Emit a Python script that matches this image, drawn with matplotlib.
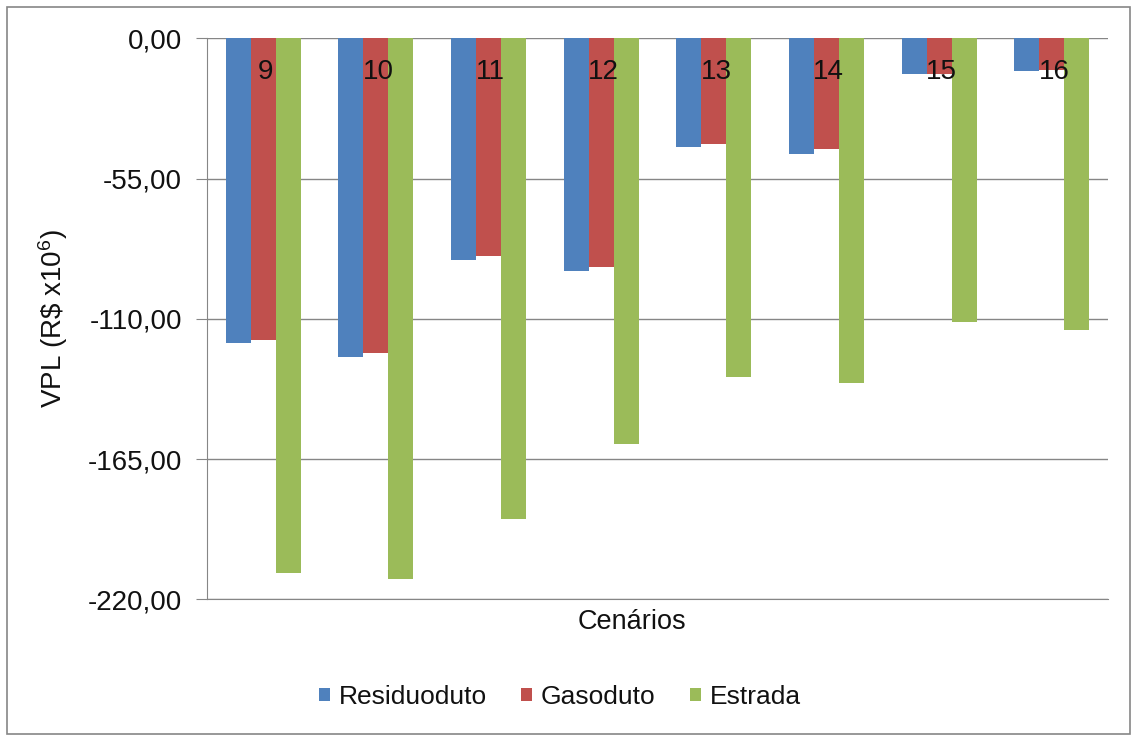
import matplotlib
matplotlib.use('Agg')
import numpy as np
from matplotlib import pyplot as plt
from matplotlib.patches import Rectangle
from matplotlib.ticker import FuncFormatter
import matplotlib.transforms as mtransforms

# Data (VPL in R$ x10^6)
scenarios = ['9', '10', '11', '12', '13', '14', '15', '16']
residuoduto = [-119.5, -125.0, -86.8, -91.2, -42.6, -45.2, -14.1, -12.7]
gasoduto = [-118.5, -123.4, -85.3, -89.7, -41.5, -43.6, -14.0, -12.3]
estrada = [-209.8, -212.0, -188.6, -159.0, -132.7, -135.3, -111.3, -114.3]
y_ticks = [0, -55, -110, -165, -220]

series = [('Residuoduto', residuoduto, '#4F81BD'),
          ('Gasoduto', gasoduto, '#C0504D'),
          ('Estrada', estrada, '#9BBB59')]

plt.rcParams['font.family'] = ['Liberation Sans', 'DejaVu Sans']
plt.rcParams['mathtext.fontset'] = 'custom'
plt.rcParams['mathtext.rm'] = 'Liberation Sans'
plt.rcParams['mathtext.default'] = 'regular'

fig = plt.figure(figsize=(11.32, 7.36), dpi=100)
ax = fig.add_axes([0.1829, 0.1857, 0.7959, 0.7623])

x = np.arange(len(scenarios))
width = 0.222
for i, (name, vals, color) in enumerate(series):
    ax.bar(x + (i - 1) * width, vals, width, color=color, label=name, zorder=3)

ax.set_xlim(-0.5, len(scenarios) - 0.5)
ax.set_ylim(-220, 0)
ax.set_yticks(y_ticks)
ax.yaxis.set_major_formatter(FuncFormatter(lambda v, p: f"{v:.2f}".replace('.', ',')))
ax.tick_params(axis='y', labelsize=20, length=8, color='#868686', pad=10,
               labelcolor='#111111')
ax.set_xticks([])
ax.grid(axis='y', color='#868686', linewidth=1, zorder=0)

for side in ['top', 'right']:
    ax.spines[side].set_visible(False)
ax.spines['left'].set_color('#868686')
ax.spines['bottom'].set_color('#868686')

# category labels sit just under the zero line
trans = mtransforms.blended_transform_factory(ax.transData, ax.transAxes)
for xi, lab in zip(x, scenarios):
    ax.text(xi + 0.02, 0.94, lab, transform=trans, ha='center', va='center',
            fontsize=20, color='#111111', zorder=4)

ax.set_ylabel('VPL (R\\$ x10$^{6}$)', fontsize=20, color='#111111')
ax.yaxis.set_label_coords(-0.152, 0.5)
fig.text(632 / 1132, 1 - 622 / 736, 'Cenários', fontsize=19.5,
         ha='center', va='center', color='#111111')

leg = fig.legend(loc='center', bbox_to_anchor=(560 / 1132, 1 - 697 / 736), ncol=3,
                 frameon=False, fontsize=19, handlelength=0.4, handleheight=0.4,
                 handletextpad=0.35, columnspacing=1.3)
for t in leg.get_texts():
    t.set_color('#111111')

# outer chart border
fig.patches.append(Rectangle((7 / 1132, 2 / 736), 1 - 9 / 1132, 1 - 9 / 736,
                             transform=fig.transFigure, fill=False,
                             edgecolor='#868686', linewidth=1.2))

fig.savefig('out.png', dpi=100)
